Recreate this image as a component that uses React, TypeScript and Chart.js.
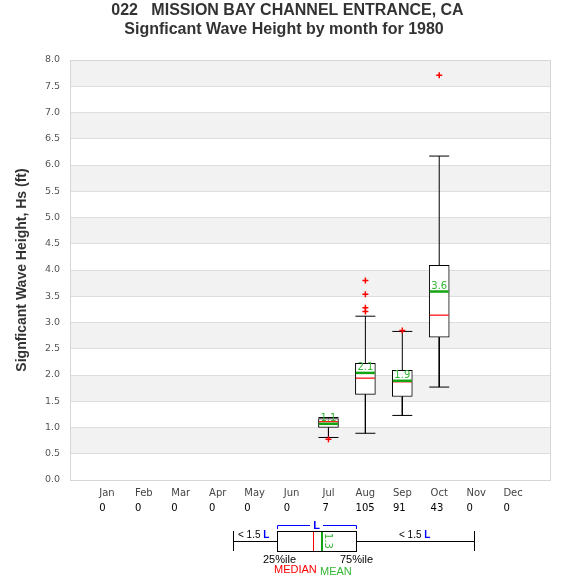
import React, { useEffect, useRef } from "react";
import { Chart, registerables } from "chart.js";

Chart.register(...registerables);

// ---- data ----
const months = ["Jan", "Feb", "Mar", "Apr", "May", "Jun", "Jul", "Aug", "Sep", "Oct", "Nov", "Dec"];
const counts = [0, 0, 0, 0, 0, 0, 7, 105, 91, 43, 0, 0];
const boxMonths = [7, 8, 9, 10];
const mins = [0.81, 0.89, 1.23, 1.77];
const q1s = [1.0, 1.63, 1.59, 2.72];
const medians = [1.11, 1.94, 1.87, 3.14];
const means = [1.07, 2.04, 1.89, 3.59];
const q3s = [1.17, 2.22, 2.09, 4.09];
const maxs = [1.19, 3.12, 2.83, 6.17];
const meanLabels = ["1.1", "2.1", "1.9", "3.6"];
const outlierX = [7, 8, 8, 8, 8, 9, 10];
const outlierY = [0.775, 3.8, 3.54, 3.28, 3.21, 2.85, 7.71];
const yMin = 0;
const yMax = 8;
const yStep = 0.5;

const titleLine1 = "022   MISSION BAY CHANNEL ENTRANCE, CA";
const titleLine2 = "Signficant Wave Height by month for 1980";
const yTitle = "Signficant Wave Height, Hs (ft)";

const GREEN = "#12a512";
const GREEN_TEXT = "#35b535";
const RED = "#ff0000";
const BLUE = "#0000ff";
const SANS = "'Liberation Sans', Arial, sans-serif";
const TICKFONT = "'DejaVu Sans', sans-serif";

const whiskerData: any[] = [];
boxMonths.forEach((m, i) => {
  whiskerData.push({ x: m, y: q3s[i] }, { x: m, y: maxs[i] }, { x: m, y: null });
  whiskerData.push({ x: m, y: q1s[i] }, { x: m, y: mins[i] }, { x: m, y: null });
});

const bandsPlugin = {
  id: "bands",
  beforeDraw(chart: any) {
    const { ctx, chartArea } = chart;
    const ys = chart.scales.y;
    ctx.save();
    ctx.fillStyle = "#f2f2f2";
    for (let v = yMin + yStep; v < yMax; v += 2 * yStep) {
      const top = ys.getPixelForValue(v + yStep);
      const bot = ys.getPixelForValue(v);
      ctx.fillRect(chartArea.left, top, chartArea.right - chartArea.left, bot - top);
    }
    ctx.restore();
  },
};

const decorPlugin = {
  id: "decor",
  afterDatasetsDraw(chart: any) {
    const { ctx } = chart;
    const xs = chart.scales.x;
    const ys = chart.scales.y;
    ctx.save();
    ctx.font = `10px ${TICKFONT}`;
    ctx.fillStyle = GREEN_TEXT;
    ctx.textAlign = "center";
    ctx.textBaseline = "alphabetic";
    boxMonths.forEach((m, i) => {
      ctx.fillText(meanLabels[i], xs.getPixelForValue(m), ys.getPixelForValue(means[i]) - 2.5);
    });
    ctx.restore();
  },
  afterDraw(chart: any) {
    const { ctx, chartArea } = chart;
    const xs = chart.scales.x;
    ctx.save();
    // plot border
    ctx.strokeStyle = "#d6d6d6";
    ctx.lineWidth = 1;
    ctx.strokeRect(
      Math.round(chartArea.left) + 0.5,
      Math.round(chartArea.top) + 0.5,
      Math.round(chartArea.right - chartArea.left),
      Math.round(chartArea.bottom - chartArea.top)
    );
    // counts
    ctx.textBaseline = "alphabetic";
    ctx.textAlign = "left";
    months.forEach((mn, i) => {
      ctx.font = `10px ${TICKFONT}`;
      const w = ctx.measureText(mn).width;
      const px = xs.getPixelForValue(i + 1);
      ctx.fillStyle = "#000";
      ctx.fillText(String(counts[i]), px - w / 2, 511);
    });
    // titles
    ctx.fillStyle = "#333";
    ctx.textAlign = "center";
    ctx.font = `bold 16px ${SANS}`;
    ctx.fillText(titleLine1, 287.5, 14.5);
    ctx.fillText(titleLine2, 284, 33.5);
    ctx.save();
    ctx.translate(22, 270);
    ctx.rotate(-Math.PI / 2);
    ctx.font = `bold 14px ${SANS}`;
    ctx.textBaseline = "middle";
    ctx.fillText(yTitle, 0, 0);
    ctx.restore();

    // legend
    ctx.strokeStyle = "#000";
    ctx.lineWidth = 1;
    ctx.beginPath();
    ctx.moveTo(233, 541.5); ctx.lineTo(277.5, 541.5);
    ctx.moveTo(233.5, 531); ctx.lineTo(233.5, 551);
    ctx.moveTo(356.5, 541.5); ctx.lineTo(474.5, 541.5);
    ctx.moveTo(474.5, 531); ctx.lineTo(474.5, 551);
    ctx.stroke();
    ctx.strokeRect(277.5, 531.5, 79, 20);
    ctx.strokeStyle = RED;
    ctx.beginPath(); ctx.moveTo(313.5, 532); ctx.lineTo(313.5, 551); ctx.stroke();
    ctx.strokeStyle = GREEN;
    ctx.lineWidth = 2;
    ctx.beginPath(); ctx.moveTo(322, 532); ctx.lineTo(322, 551); ctx.stroke();
    // bracket
    ctx.strokeStyle = BLUE;
    ctx.lineWidth = 1;
    ctx.beginPath();
    ctx.moveTo(277.5, 529); ctx.lineTo(277.5, 525.5); ctx.lineTo(310, 525.5);
    ctx.moveTo(323, 525.5); ctx.lineTo(356.5, 525.5); ctx.lineTo(356.5, 529);
    ctx.stroke();
    ctx.fillStyle = BLUE;
    ctx.textAlign = "center";
    ctx.font = `bold 11px ${SANS}`;
    ctx.fillText("L", 316.5, 529);
    // < 1.5 L
    const lt = (x: number) => {
      ctx.textAlign = "left";
      ctx.font = `10px ${SANS}`;
      ctx.fillStyle = "#000";
      const s = "< 1.5 ";
      ctx.fillText(s, x, 538);
      const w = ctx.measureText(s).width;
      ctx.font = `bold 10px ${SANS}`;
      ctx.fillStyle = BLUE;
      ctx.fillText("L", x + w, 538);
    };
    lt(238);
    lt(399);
    // 1.3 rotated
    ctx.save();
    ctx.translate(328, 541);
    ctx.rotate(Math.PI / 2);
    ctx.font = `10px ${TICKFONT}`;
    ctx.fillStyle = GREEN_TEXT;
    ctx.textAlign = "center";
    ctx.textBaseline = "middle";
    ctx.fillText("1.3", 0, 0);
    ctx.restore();
    ctx.textAlign = "left";
    ctx.textBaseline = "alphabetic";
    ctx.font = `11px ${SANS}`;
    ctx.fillStyle = "#000";
    ctx.fillText("25%ile", 263, 562.5);
    ctx.fillText("75%ile", 340, 562.5);
    ctx.fillStyle = RED;
    ctx.fillText("MEDIAN", 274, 573);
    ctx.fillStyle = GREEN_TEXT;
    ctx.fillText("MEAN", 320, 574.5);
    ctx.restore();
  },
};

export default function App() {
  const ref = useRef<HTMLCanvasElement | null>(null);
  useEffect(() => {
    if (!ref.current) return;
    const chart = new Chart(ref.current, {
      type: "line",
      data: {
        datasets: [
          {
            type: "line",
            label: "whiskers",
            data: whiskerData,
            borderColor: "#000",
            borderWidth: 1,
            pointRadius: 0,
            spanGaps: false,
            order: 5,
          } as any,
          {
            type: "bar",
            label: "box",
            data: boxMonths.map((m, i) => ({ x: m, y: [q1s[i], q3s[i]] })),
            backgroundColor: "#ffffff",
            borderColor: "#000",
            borderWidth: 1,
            borderSkipped: false,
            barThickness: 20,
            order: 4,
          } as any,
          {
            type: "scatter",
            label: "caps",
            data: [
              ...boxMonths.map((m, i) => ({ x: m, y: maxs[i] })),
              ...boxMonths.map((m, i) => ({ x: m, y: mins[i] })),
            ],
            pointStyle: "line",
            pointRadius: 10,
            borderColor: "#000",
            borderWidth: 1,
            showLine: false,
            order: 3,
          } as any,
          {
            type: "scatter",
            label: "median",
            data: boxMonths.map((m, i) => ({ x: m, y: medians[i] })),
            pointStyle: "line",
            pointRadius: 9.5,
            borderColor: RED,
            borderWidth: 1.2,
            showLine: false,
            order: 2,
          } as any,
          {
            type: "scatter",
            label: "mean",
            data: boxMonths.map((m, i) => ({ x: m, y: means[i] })),
            pointStyle: "line",
            pointRadius: 9.5,
            borderColor: GREEN,
            borderWidth: 2.5,
            showLine: false,
            order: 1,
          } as any,
          {
            type: "scatter",
            label: "outliers",
            data: outlierX.map((x, i) => ({ x, y: outlierY[i] })),
            pointStyle: "cross",
            pointRadius: 3,
            borderColor: RED,
            borderWidth: 1.5,
            showLine: false,
            order: 0,
          } as any,
        ],
      },
      options: {
        animation: false,
        responsive: false,
        devicePixelRatio: 1,
        layout: { padding: { top: 60, right: 25, bottom: 0, left: 0 } },
        plugins: { legend: { display: false }, tooltip: { enabled: false }, title: { display: false } },
        events: [],
        scales: {
          x: {
            type: "linear",
            min: 0,
            max: 13,
            offset: false,
            afterFit: (s: any) => { s.height = 100; },
            afterBuildTicks: (s: any) => { s.ticks = months.map((_, i) => ({ value: i + 1 })); },
            grid: { display: false, drawTicks: false, tickLength: 0 },
            border: { display: false },
            ticks: {
              autoSkip: false,
              maxRotation: 0,
              padding: 7,
              color: "#444",
              font: { family: TICKFONT, size: 10 },
              callback: (v: any) => months[Math.round(v) - 1] ?? "",
            },
          },
          y: {
            type: "linear",
            min: yMin,
            max: yMax,
            afterFit: (s: any) => { s.width = 70; },
            grid: { color: "#dedede", lineWidth: 1, drawTicks: false },
            border: { display: false },
            ticks: {
              stepSize: yStep,
              padding: 10,
              color: "#555",
              font: { family: TICKFONT, size: 9.5 },
              callback: (v: any) => Number(v).toFixed(1),
            },
          },
        },
      } as any,
      plugins: [bandsPlugin, decorPlugin],
    });
    return () => chart.destroy();
  }, []);
  return (
    <div style={{ position: "fixed", left: 0, top: 0, width: 575, height: 580, background: "#fff" }}>
      <canvas ref={ref} width={575} height={580} style={{ display: "block" }} />
    </div>
  );
}
